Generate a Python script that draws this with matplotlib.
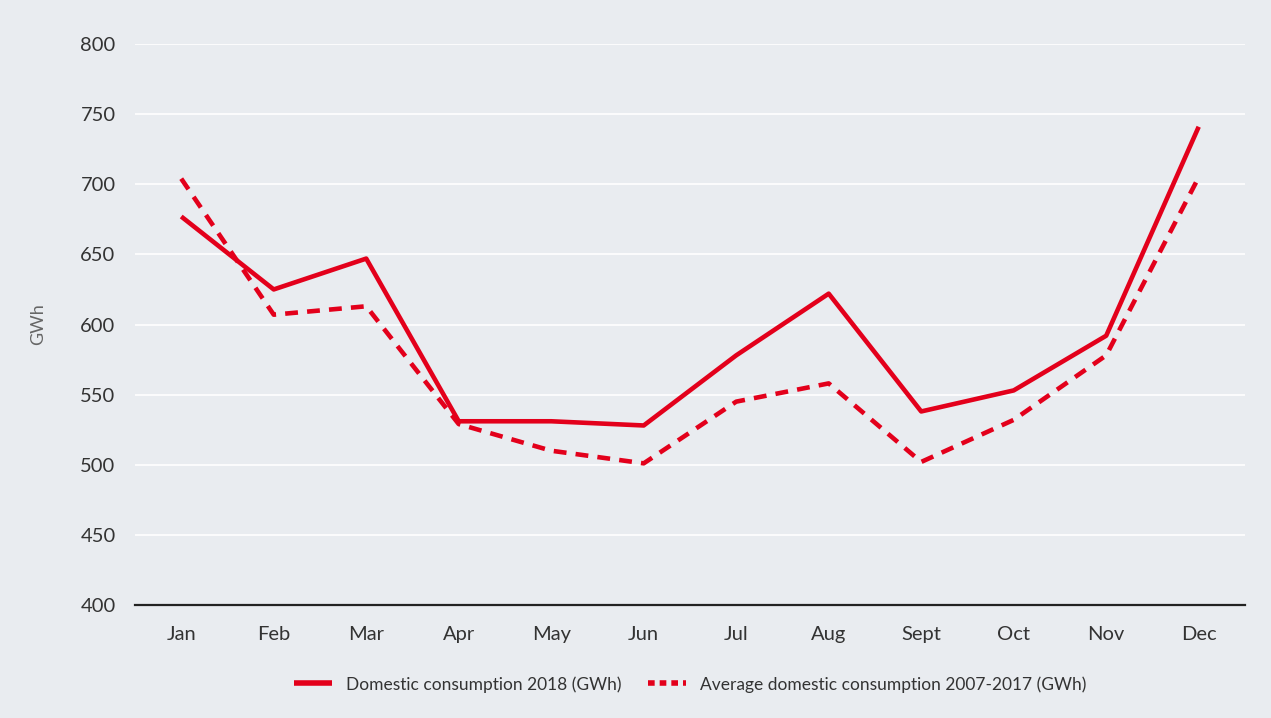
import numpy as np
import matplotlib.pyplot as plt
from matplotlib.lines import Line2D

months = ['Jan', 'Feb', 'Mar', 'Apr', 'May', 'Jun', 'Jul', 'Aug', 'Sept', 'Oct', 'Nov', 'Dec']
domestic_2018 = [677, 625, 647, 531, 531, 528, 578, 622, 538, 553, 592, 741]
average_2007_2017 = [704, 607, 613, 529, 510, 501, 545, 558, 502, 532, 578, 705]

bg = '#e9ecf0'
red = '#e3001b'

plt.rcParams['font.family'] = ['Lato', 'DejaVu Sans']

fig = plt.figure(figsize=(12.71, 7.18), dpi=100, facecolor=bg)
ax = fig.add_axes([0.1062, 0.1574, 0.8733, 0.7813], facecolor=bg)

x = np.arange(len(months))
ax.plot(x, domestic_2018, color=red, lw=3.3, solid_capstyle='butt')
ax.plot(x, average_2007_2017, color=red, lw=3.3, dashes=(2.8, 2), dash_capstyle='butt')

ax.set_xlim(-0.5, 11.5)
ax.set_ylim(400, 800)
ax.set_yticks(range(400, 801, 50))
ax.set_xticks(x)
ax.set_xticklabels(months)
ax.grid(axis='y', color='white', lw=1.2)
ax.set_axisbelow(True)
for s in ['top', 'right', 'left']:
    ax.spines[s].set_visible(False)
ax.spines['bottom'].set_color('#222222')
ax.spines['bottom'].set_linewidth(1.6)
ax.tick_params(axis='both', length=0, labelsize=14.5, colors='#333333')
ax.tick_params(axis='x', pad=15)
ax.tick_params(axis='y', pad=14)
ax.set_ylabel('GWh', fontsize=13, color='#666666')
ax.yaxis.set_label_coords(-0.08, 0.5)

handles = [
    Line2D([], [], color=red, lw=4, solid_capstyle='butt'),
    Line2D([], [], color=red, lw=4, dashes=(1.2, 0.9), dash_capstyle='butt'),
]
labels = ['Domestic consumption 2018 (GWh)', 'Average domestic consumption 2007-2017 (GWh)']
fig.legend(handles, labels, loc='center', bbox_to_anchor=(0.543, 0.047), ncol=2,
           frameon=False, fontsize=12.5, handlelength=2.2, columnspacing=1.5,
           labelcolor='#333333')

fig.savefig('out.png', dpi=100, facecolor=bg)
